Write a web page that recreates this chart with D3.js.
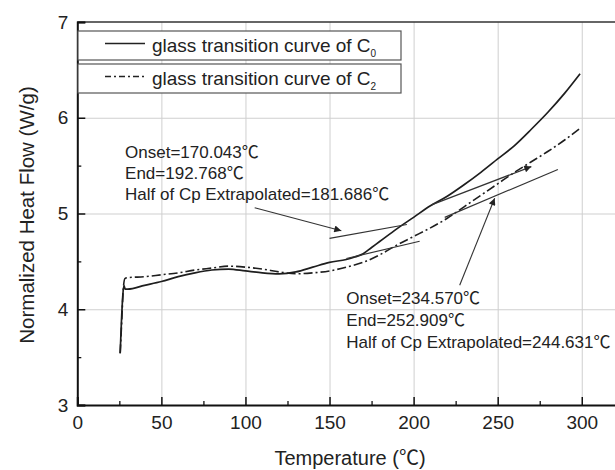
<!DOCTYPE html>
<html>
<head>
<meta charset="utf-8">
<script src="https://cdn.jsdelivr.net/npm/d3@7"></script>
<style>
  body { margin: 0; background: #fff; }
  svg { font-family: "Liberation Sans", Arial, "Noto Sans CJK SC", sans-serif; }
</style>
</head>
<body>
<svg width="615" height="470"></svg>
<script>
// значения
const tempTicks = [0, 50, 100, 150, 200, 250, 300];
const tempMinor = [25, 75, 125, 175, 225, 275, 325];
const flowTicks = [3, 4, 5, 6, 7];
const flowMinor = [3.5, 4.5, 5.5, 6.5];

const tempC0 = [25.5, 26.2, 27.0, 27.7, 28.5, 30, 40, 50, 60, 70, 80, 90, 100, 110, 120, 130, 140, 150, 160, 165, 170, 175, 180, 190, 200, 210, 220, 230, 240, 250, 260, 270, 280, 290, 299];
const flowC0 = [3.54, 3.85, 4.13, 4.25, 4.21, 4.21, 4.25, 4.29, 4.34, 4.38, 4.41, 4.42, 4.40, 4.38, 4.37, 4.39, 4.44, 4.49, 4.52, 4.545, 4.58, 4.645, 4.71, 4.84, 4.96, 5.08, 5.18, 5.30, 5.43, 5.57, 5.71, 5.88, 6.06, 6.26, 6.46];

const tempC2 = [25.5, 26.5, 27.3, 28.3, 30, 40, 50, 60, 70, 80, 90, 100, 110, 120, 130, 140, 150, 160, 170, 180, 190, 200, 210, 220, 230, 240, 250, 260, 270, 280, 290, 299];
const flowC2 = [3.54, 3.9, 4.2, 4.32, 4.33, 4.34, 4.36, 4.38, 4.41, 4.43, 4.45, 4.44, 4.42, 4.39, 4.37, 4.38, 4.40, 4.44, 4.49, 4.57, 4.67, 4.76, 4.85, 4.95, 5.07, 5.19, 5.31, 5.43, 5.54, 5.65, 5.77, 5.89];

// касательные (температура, тепловой поток)
const tangentSegments = [
    [[150, 4.74], [196, 4.885]],
    [[160, 4.53], [203.6, 4.71]],
    [[210.6, 5.09], [270, 5.49]],
    [[218.5, 4.96], [285.8, 5.46]]
];
const tangentHasHead = [false, false, true, false];
// стрелки от подписей
const pointerArrows = [
    [[105.5, 5.06], [157, 4.82]],
    [[227.4, 4.25], [248.2, 5.16]]
];

const legendLabels = ["glass transition curve of C", "glass transition curve of C"];
const legendSubs = ["0", "2"];
const noteC0 = ["Onset=170.043℃", "End=192.768℃", "Half of Cp Extrapolated=181.686℃"];
const noteC2 = ["Onset=234.570℃", "End=252.909℃", "Half of Cp Extrapolated=244.631℃"];
const noteC0At = [28.4, 5.58];
const noteC2At = [160, 4.055];

const svg = d3.select("svg");
const margin = {left: 77.3, top: 22};
const innerW = 546.5, innerH = 383;

const x = d3.scaleLinear().domain([0, 325]).range([0, innerW]);
const y = d3.scaleLinear().domain([3, 7]).range([innerH, 0]);

const g = svg.append("g").attr("transform", `translate(${margin.left},${margin.top})`);

// сетка
g.append("g")
    .attr("transform", `translate(0,${innerH})`)
    .call(d3.axisBottom(x).tickValues(tempTicks.slice(1)).tickSize(-innerH).tickFormat(""))
    .call(a => a.select(".domain").remove())
    .selectAll("line").attr("stroke", "#cfcfcf").attr("stroke-width", 1);
g.append("g")
    .call(d3.axisLeft(y).tickValues(flowTicks.slice(1, -1)).tickSize(-innerW).tickFormat(""))
    .call(a => a.select(".domain").remove())
    .selectAll("line").attr("stroke", "#cfcfcf").attr("stroke-width", 1);

// верхняя рамка
g.append("line")
    .attr("x1", 0).attr("x2", innerW).attr("y1", y(7)).attr("y2", y(7))
    .attr("stroke", "#333").attr("stroke-width", 1.5);

// кривые
const line = d3.line().x(d => x(d[0])).y(d => y(d[1])).curve(d3.curveMonotoneX);
const lineRaw = d3.line().x(d => x(d[0])).y(d => y(d[1]));

g.append("path")
    .attr("d", line(tempC0.map((t, i) => [t, flowC0[i]])))
    .attr("fill", "none").attr("stroke", "#1e1e1e").attr("stroke-width", 1.7)
    .attr("stroke-linejoin", "round");
g.append("path")
    .attr("d", line(tempC2.map((t, i) => [t, flowC2[i]])))
    .attr("fill", "none").attr("stroke", "#1e1e1e").attr("stroke-width", 1.6)
    .attr("stroke-dasharray", "9,3,2,3");

// наконечник стрелки
svg.append("defs").append("marker")
    .attr("id", "head")
    .attr("viewBox", "0 0 10 10")
    .attr("refX", 10).attr("refY", 5)
    .attr("markerWidth", 9).attr("markerHeight", 7)
    .attr("markerUnits", "userSpaceOnUse")
    .attr("orient", "auto")
    .append("path").attr("d", "M0,0 L10,5 L0,10 Z").attr("fill", "#222");

tangentSegments.forEach((seg, i) => {
    g.append("path")
        .attr("d", lineRaw(seg))
        .attr("stroke", "#333").attr("stroke-width", 1.2).attr("fill", "none")
        .attr("marker-end", tangentHasHead[i] ? "url(#head)" : null);
});
pointerArrows.forEach(seg => {
    g.append("path")
        .attr("d", lineRaw(seg))
        .attr("stroke", "#333").attr("stroke-width", 1.1).attr("fill", "none")
        .attr("marker-end", "url(#head)");
});

// оси
const axX = g.append("g").attr("transform", `translate(0,${innerH})`)
    .call(d3.axisBottom(x).tickValues(tempTicks).tickSize(-8).tickPadding(11));
axX.select(".domain").attr("stroke", "#111").attr("stroke-width", 2);
axX.selectAll(".tick line").attr("stroke", "#111").attr("stroke-width", 1.5);
axX.selectAll("text").attr("font-size", 19).attr("fill", "#222");

g.append("g").attr("transform", `translate(0,${innerH})`)
    .call(d3.axisBottom(x).tickValues(tempMinor).tickSize(-4).tickFormat(""))
    .call(a => a.select(".domain").remove())
    .selectAll("line").attr("stroke", "#111").attr("stroke-width", 1.3);

const axY = g.append("g")
    .call(d3.axisLeft(y).tickValues(flowTicks).tickSize(-8).tickPadding(9).tickFormat(d3.format("d")));
axY.select(".domain").attr("stroke", "#111").attr("stroke-width", 2);
axY.selectAll(".tick line").attr("stroke", "#111").attr("stroke-width", 1.5);
axY.selectAll("text").attr("font-size", 19).attr("fill", "#222");

g.append("g")
    .call(d3.axisLeft(y).tickValues(flowMinor).tickSize(-4).tickFormat(""))
    .call(a => a.select(".domain").remove())
    .selectAll("line").attr("stroke", "#111").attr("stroke-width", 1.3);

// подписи осей
svg.append("text")
    .attr("x", 350).attr("y", 465)
    .attr("text-anchor", "middle").attr("font-size", 20).attr("fill", "#222")
    .text("Temperature (℃)");
svg.append("text")
    .attr("transform", "translate(34,215) rotate(-90)")
    .attr("text-anchor", "middle").attr("font-size", 20.5).attr("fill", "#222")
    .text("Normalized Heat Flow (W/g)");

// легенда
legendLabels.forEach((lab, i) => {
    const top = 31 + i * 33;
    const lg = svg.append("g");
    lg.append("rect")
        .attr("x", 78).attr("y", top).attr("width", 323).attr("height", 29)
        .attr("fill", "#fff").attr("stroke", "#555").attr("stroke-width", 1.2);
    lg.append("line")
        .attr("x1", 105).attr("x2", 145).attr("y1", top + 12.5).attr("y2", top + 12.5)
        .attr("stroke", "#222").attr("stroke-width", 1.4)
        .attr("stroke-dasharray", i === 1 ? "6,3,2,3" : null);
    const t = lg.append("text")
        .attr("x", 152).attr("y", top + 21)
        .attr("font-size", 19).attr("fill", "#222")
        .text(lab);
    t.append("tspan").attr("font-size", 10).attr("dy", 5).text(legendSubs[i]);
});

// аннотации
function drawNote(lines, at, step) {
    lines.forEach((s, i) => {
        g.append("text")
            .attr("x", x(at[0])).attr("y", y(at[1]) + i * step)
            .attr("font-size", 17).attr("fill", "#222")
            .text(s);
    });
}
drawNote(noteC0, noteC0At, 21);
drawNote(noteC2, noteC2At, 22);
</script>
</body>
</html>
